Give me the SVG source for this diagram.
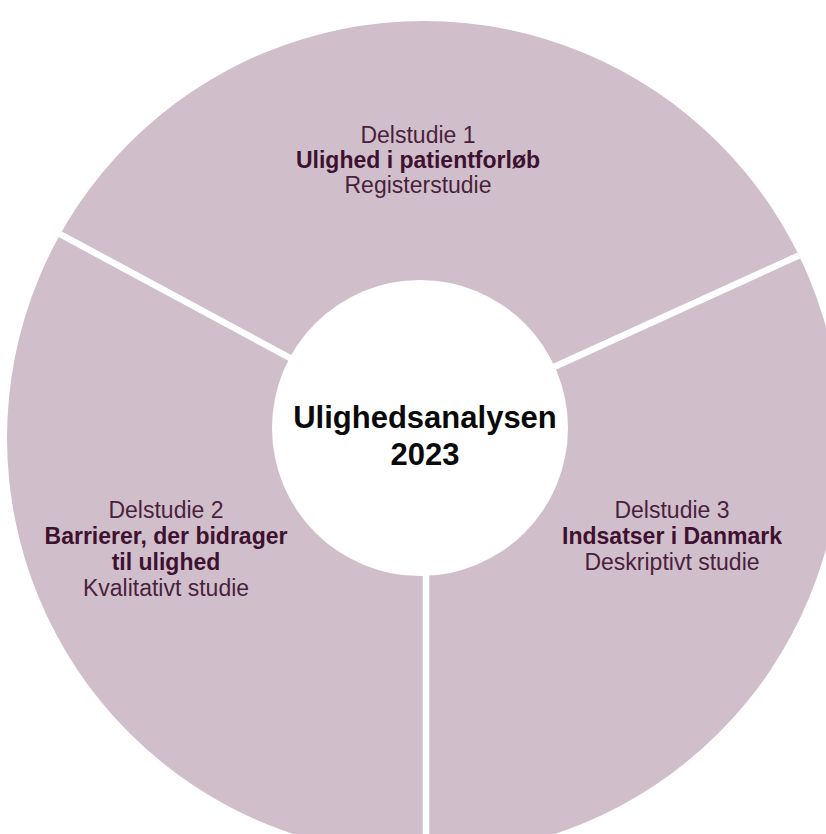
<svg xmlns="http://www.w3.org/2000/svg" width="826" height="834" viewBox="0 0 826 834">
  <style>
    .seg { fill: #D0BFCB; }
    .txt { font-family: "Liberation Sans", Arial, sans-serif; font-size: 23px; text-anchor: middle; fill: #4A1F3D; }
    .b { font-weight: bold; fill: #3E1131; }
    .divider { stroke: #FFFFFF; stroke-width: 6.5; fill: none; }
    .hub-txt { font-family: "Liberation Sans", Arial, sans-serif; font-size: 31px; font-weight: bold; text-anchor: middle; fill: #0A0A0A; }
  </style>
  <defs>
    <clipPath id="disc">
      <circle cx="424" cy="438" r="417"/>
    </clipPath>
  </defs>
  <rect width="826" height="834" fill="#FFFFFF"/>

  <!-- Outer ring, split into three study sectors -->
  <g clip-path="url(#disc)">
    <g id="delstudie-1">
      <polygon class="seg" points="420,428 -400,-13 -400,-400 1300,-400 1300,27"/>
    </g>
    <g id="delstudie-2">
      <polygon class="seg" points="420,428 -400,-13 -400,1400 426,1400 426,428"/>
    </g>
    <g id="delstudie-3">
      <polygon class="seg" points="420,428 426,428 426,1400 1300,1400 1300,27"/>
    </g>
  </g>

  <!-- White separators between the sectors -->
  <g id="connectors" clip-path="url(#disc)">
    <line class="divider" x1="420" y1="428" x2="-20" y2="191"/>
    <line class="divider" x1="420" y1="428" x2="846" y2="234"/>
    <line class="divider" x1="426" y1="428" x2="426" y2="860"/>
  </g>

  <!-- Sector labels -->
  <g id="label-1">
    <text class="txt" x="418" y="143">Delstudie 1</text>
    <text class="txt b" x="418" y="168">Ulighed i patientforløb</text>
    <text class="txt" x="418" y="193">Registerstudie</text>
  </g>
  <g id="label-2">
    <text class="txt" x="166" y="518">Delstudie 2</text>
    <text class="txt b" x="166" y="544">Barrierer, der bidrager</text>
    <text class="txt b" x="166" y="570">til ulighed</text>
    <text class="txt" x="166" y="596">Kvalitativt studie</text>
  </g>
  <g id="label-3">
    <text class="txt" x="672" y="518">Delstudie 3</text>
    <text class="txt b" x="672" y="544">Indsatser i Danmark</text>
    <text class="txt" x="672" y="570">Deskriptivt studie</text>
  </g>

  <!-- Central hub -->
  <g id="hub">
    <circle cx="420" cy="428" r="148" fill="#FFFFFF"/>
    <text class="hub-txt" x="425" y="428">Ulighedsanalysen</text>
    <text class="hub-txt" x="425" y="465">2023</text>
  </g>
</svg>
